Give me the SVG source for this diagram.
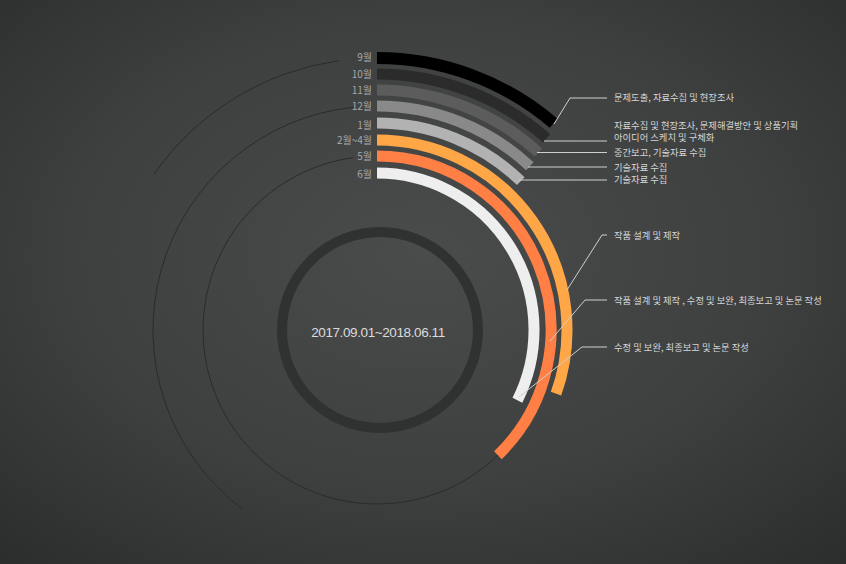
<svg xmlns="http://www.w3.org/2000/svg" width="846" height="564" viewBox="0 0 846 564">
<defs>
<radialGradient id="bg" cx="50%" cy="45%" r="75%">
<stop offset="0" stop-color="#4a4c4c"/>
<stop offset="0.55" stop-color="#3e4040"/>
<stop offset="1" stop-color="#2b2c2c"/>
</radialGradient>
<style>
.band{fill:none;stroke-linecap:butt}
.thin{fill:none;stroke:#2a2b2b;stroke-width:1}
.lead{fill:none;stroke:#cfcfcf;stroke-width:1}
.mon{font-family:"Noto Sans CJK KR","Noto Sans",sans-serif;font-size:10px;fill:#a8a8a8;text-anchor:end}
.lbl{font-family:"Noto Sans CJK KR","Noto Sans",sans-serif;font-size:9.3px;fill:#d6d6d6}
.ctr{font-family:"Liberation Sans","Noto Sans CJK KR",sans-serif;font-size:13.5px;fill:#dcdcdc;text-anchor:middle;letter-spacing:-0.4px}
</style>
</defs>
<rect width="846" height="564" fill="url(#bg)"/>

<g id="guides">
<path class="thin" d="M339.1 60.6 A272 272 0 0 0 154.2 174"/>
<path class="thin" d="M353.6 107.2 A224 224 0 0 0 242.2 508.9"/>
<path class="thin" d="M352.8 157.7 A174 174 0 1 0 497.9 455.2"/>
</g>

<g id="center">
<circle cx="380" cy="330" r="98" fill="none" stroke="#303131" stroke-width="10"/>
<text class="ctr" x="378" y="337">2017.09.01~2018.06.11</text>
</g>

<g id="sep">
<path class="band" stroke="#000000" stroke-width="12" d="M377 58 A272 272 0 0 1 553.6 123.2"/>
<text class="mon" x="372" y="61">9월</text>
</g>
<g id="oct">
<path class="band" stroke="#2b2b2b" stroke-width="11" d="M377 74 A256 256 0 0 1 546.6 138.3"/>
<text class="mon" x="372" y="78">10월</text>
</g>
<g id="nov">
<path class="band" stroke="#5c5c5c" stroke-width="11" d="M377 90 A240 240 0 0 1 538.5 152.5"/>
<text class="mon" x="372" y="94">11월</text>
</g>
<g id="dec">
<path class="band" stroke="#898989" stroke-width="11" d="M377 106 A224 224 0 0 1 529.8 166.2"/>
<text class="mon" x="372" y="110">12월</text>
</g>
<g id="jan">
<path class="band" stroke="#b2b2b2" stroke-width="11" d="M377 123 A207 207 0 0 1 520.8 181.1"/>
<text class="mon" x="372" y="129">1월</text>
</g>
<g id="feb-apr">
<path class="band" stroke="#ffa646" stroke-width="11" d="M377 140 A190 190 0 0 1 556 393.7"/>
<text class="mon" x="372" y="144">2월~4월</text>
</g>
<g id="may">
<path class="band" stroke="#ff7f45" stroke-width="11" d="M377 156 A174 174 0 0 1 497.9 455.2"/>
<text class="mon" x="372" y="160">5월</text>
</g>
<g id="jun">
<path class="band" stroke="#eeeeee" stroke-width="11" d="M377 173 A157 157 0 0 1 517.4 400.3"/>
<text class="mon" x="372" y="178">6월</text>
</g>

<g id="connectors">
<polyline class="lead" points="554,124 570,98 607,98"/>
<polyline class="lead" points="544,141 607,141"/>
<polyline class="lead" points="537,152.5 607,152.5"/>
<polyline class="lead" points="528,167 607,167"/>
<polyline class="lead" points="519,180 607,180"/>
<polyline class="lead" points="567,290 602,235 607,235"/>
<polyline class="lead" points="550,341 585,300 607,300"/>
<polyline class="lead" points="519,397 582,347 607,347"/>
</g>

<g id="labels">
<text class="lbl" x="614" y="101">문제도출, 자료수집 및 현장조사</text>
<text class="lbl" x="614" y="128.5">자료수집 및 현장조사, 문제해결방안 및 상품기획</text>
<text class="lbl" x="614" y="141">아이디어 스케치 및 구체화</text>
<text class="lbl" x="614" y="155.5">중간보고, 기술자료 수집</text>
<text class="lbl" x="614" y="170.5">기술자료 수집</text>
<text class="lbl" x="614" y="183">기술자료 수집</text>
<text class="lbl" x="614" y="238.5">작품 설계 및 제작</text>
<text class="lbl" x="614" y="304">작품 설계 및 제작 , 수정 및 보완, 최종보고 및 논문 작성</text>
<text class="lbl" x="614" y="350.5">수정 및 보완, 최종보고 및 논문 작성</text>
</g>
</svg>
